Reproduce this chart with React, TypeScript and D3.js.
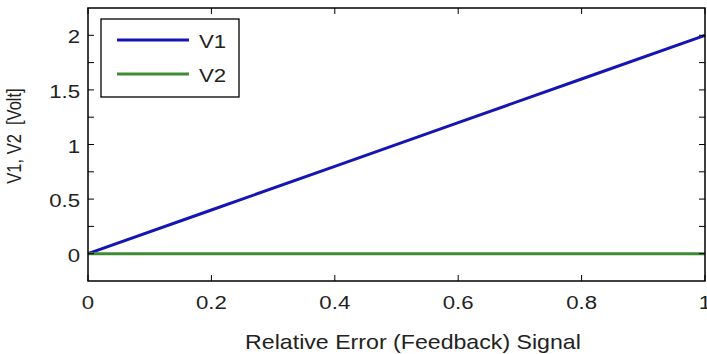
import * as d3 from "d3";

const xValues = [0, 0.2, 0.4, 0.6, 0.8, 1];
const v1Values = [0, 0.4, 0.8, 1.2, 1.6, 2];
const v2Values = [0, 0, 0, 0, 0, 0];
const seriesNames = ["V1", "V2"];
const xTickValues = [0, 0.2, 0.4, 0.6, 0.8, 1];
const yTickValues = [0, 0.25, 0.5, 0.75, 1, 1.25, 1.5, 1.75, 2];
const yLabelValues = [0, 0.5, 1, 1.5, 2];

const W = 707;
const H = 354;
const M = { left: 88, right: 705, top: 8, bottom: 281 };
const COLORS = ["#1515b4", "#3f8a35"];
const FONT = "'Liberation Sans', Arial, sans-serif";
const SX = 1.17;

export default function App() {
  const x = d3.scaleLinear().domain([0, 1]).range([M.left, M.right]);
  const y = d3.scaleLinear().domain([-0.25, 2.25]).range([M.bottom, M.top]);
  const line = d3
    .line<[number, number]>()
    .x((d) => x(d[0]))
    .y((d) => y(d[1]));
  const series = [v1Values, v2Values].map((vals) => xValues.map((xv, i) => [xv, vals[i]] as [number, number]));
  const tick = 6;

  return (
    <svg width={W} height={H} style={{ position: "absolute", left: 0, top: 0, background: "#fff" }} fontFamily={FONT}>
      <rect x={0} y={0} width={W} height={H} fill="#fff" />
      {/* lines */}
      {series.map((s, i) => (
        <path key={i} d={line(s) ?? ""} fill="none" stroke={COLORS[i]} strokeWidth={3} />
      ))}
      {/* box */}
      <rect x={M.left} y={M.top} width={M.right - M.left} height={M.bottom - M.top} fill="none" stroke="#000" strokeWidth={1.5} />
      {xTickValues.map((t) => (
        <g key={"xt" + t}>
          <line x1={x(t)} x2={x(t)} y1={M.bottom} y2={M.bottom - tick} stroke="#000" />
          <line x1={x(t)} x2={x(t)} y1={M.top} y2={M.top + tick} stroke="#000" />
          <text transform={`translate(${x(t)},309) scale(${SX},1)`} textAnchor="middle" fontSize={19} fill="#222">
            {t}
          </text>
        </g>
      ))}
      {yTickValues.map((t) => (
        <g key={"yt" + t}>
          <line x1={M.left} x2={M.left + tick} y1={y(t)} y2={y(t)} stroke="#000" />
          <line x1={M.right} x2={M.right - tick} y1={y(t)} y2={y(t)} stroke="#000" />
        </g>
      ))}
      {yLabelValues.map((t) => (
        <text key={"yl" + t} transform={`translate(80,${y(t) + 8}) scale(${SX},1)`} textAnchor="end" fontSize={19} fill="#222">
          {t}
        </text>
      ))}
      <text transform={`translate(413,349) scale(${SX},1)`} textAnchor="middle" fontSize={19.8} fill="#222">
        Relative Error (Feedback) Signal
      </text>
      <text transform={`translate(21,136) rotate(-90) scale(1,${SX})`} textAnchor="middle" fontSize={16.5} fill="#222">
        {"V1, V2\u00a0\u00a0[Volt]"}
      </text>
      {/* legend */}
      <rect x={101} y={19} width={138} height={78} fill="#fff" stroke="#000" strokeWidth={1.3} />
      {seriesNames.map((name, i) => (
        <g key={name}>
          <line x1={117} x2={189} y1={40 + i * 34} y2={40 + i * 34} stroke={COLORS[i]} strokeWidth={3} />
          <text transform={`translate(199,${48 + i * 34}) scale(${SX},1)`} fontSize={19} fill="#222">
            {name}
          </text>
        </g>
      ))}
    </svg>
  );
}
